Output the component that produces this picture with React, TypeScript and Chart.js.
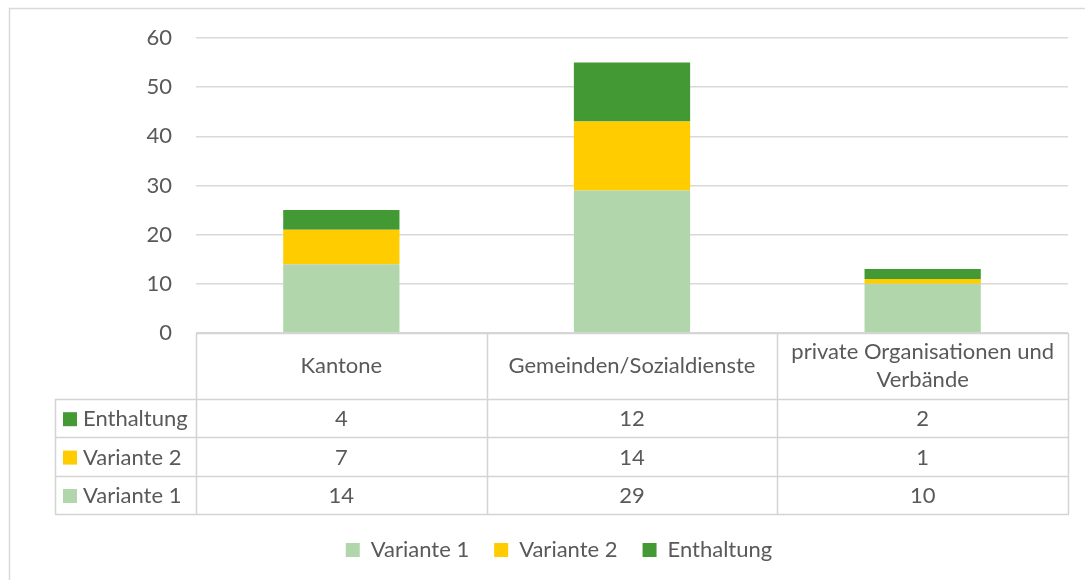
import React, { useEffect, useRef } from "react";
import { Chart, registerables } from "chart.js";

Chart.register(...registerables);

const categories = ["Kantone", "Gemeinden/Sozialdienste", "private Organisationen und Verbände"];
const variante1 = [14, 29, 10];
const variante2 = [7, 14, 1];
const enthaltung = [4, 12, 2];
const seriesNames = ["Variante 1", "Variante 2", "Enthaltung"];
const seriesColors = ["#B1D6AB", "#FFCC00", "#439A34"];
const yTicks = [0, 10, 20, 30, 40, 50, 60];

const FONT = "Lato";
const FS = 22;
const TEXT = "#595959";
const LINE = "#D9D9D9";

const frame = {
  id: "frame",
  beforeDraw(chart: any) {
    const ctx = chart.ctx;
    ctx.save();
    ctx.strokeStyle = LINE;
    ctx.lineWidth = 1.5;
    ctx.beginPath();
    ctx.moveTo(9.5, chart.height);
    ctx.lineTo(9.5, 8.5);
    ctx.lineTo(chart.width, 8.5);
    ctx.stroke();
    ctx.restore();
  },
};

function wrap(ctx: any, text: string, maxW: number): string[] {
  const words = text.split(" ");
  const lines: string[] = [];
  let cur = "";
  for (const w of words) {
    const t = cur ? cur + " " + w : w;
    if (ctx.measureText(t).width > maxW && cur) {
      lines.push(cur);
      cur = w;
    } else cur = t;
  }
  if (cur) lines.push(cur);
  return lines;
}

const dataTable = {
  id: "dataTable",
  afterDraw(chart: any) {
    const ctx = chart.ctx;
    const x = chart.scales.x;
    const area = chart.chartArea;
    const n = categories.length;
    const colW = (area.right - area.left) / n;
    const top = area.bottom;
    const headerBottom = top + 66;
    const rowH = 38.4;
    const rows = [
      { name: seriesNames[2], color: seriesColors[2], values: enthaltung },
      { name: seriesNames[1], color: seriesColors[1], values: variante2 },
      { name: seriesNames[0], color: seriesColors[0], values: variante1 },
    ];
    const tableBottom = headerBottom + rowH * rows.length;
    const labelLeft = 55;
    const right = area.right + 1;

    ctx.save();
    ctx.strokeStyle = "#D4D4D4";
    ctx.lineWidth = 1.5;
    ctx.beginPath();
    ctx.moveTo(area.left, top + 0.5);
    ctx.lineTo(right, top + 0.5);
    for (let i = 0; i <= n; i++) {
      const vx = Math.round(area.left + colW * i) + 0.5;
      ctx.moveTo(vx, top);
      ctx.lineTo(vx, tableBottom);
    }
    ctx.moveTo(labelLeft + 0.5, headerBottom);
    ctx.lineTo(labelLeft + 0.5, tableBottom);
    for (let r = 0; r <= rows.length; r++) {
      const hy = Math.round(headerBottom + rowH * r) + 0.5;
      ctx.moveTo(labelLeft, hy);
      ctx.lineTo(right, hy);
    }
    ctx.stroke();

    ctx.fillStyle = TEXT;
    ctx.font = `${FS}px ${FONT}`;
    ctx.textBaseline = "middle";
    ctx.textAlign = "center";
    for (let i = 0; i < n; i++) {
      const cx = x.getPixelForValue(i);
      const lines = wrap(ctx, categories[i], colW - 12);
      const lh = 28;
      const cy = (top + headerBottom) / 2;
      lines.forEach((l, k) => {
        ctx.fillText(l, cx, cy + (k - (lines.length - 1) / 2) * lh);
      });
    }
    rows.forEach((row, r) => {
      const cy = headerBottom + rowH * r + rowH / 2 + 1;
      ctx.fillStyle = row.color;
      ctx.fillRect(63, cy - 7, 14, 14);
      ctx.fillStyle = TEXT;
      ctx.textAlign = "left";
      ctx.fillText(row.name, 83, cy);
      ctx.textAlign = "center";
      for (let i = 0; i < n; i++) {
        ctx.fillText(String(row.values[i]), x.getPixelForValue(i), cy);
      }
    });
    ctx.restore();
  },
};

export default function App() {
  const ref = useRef<HTMLCanvasElement | null>(null);
  useEffect(() => {
    if (!ref.current) return;
    const chart = new Chart(ref.current, {
      type: "bar",
      data: {
        labels: categories,
        datasets: [
          { label: seriesNames[0], data: variante1, backgroundColor: seriesColors[0] },
          { label: seriesNames[1], data: variante2, backgroundColor: seriesColors[1] },
          { label: seriesNames[2], data: enthaltung, backgroundColor: seriesColors[2] },
        ],
      },
      options: {
        animation: false,
        responsive: false,
        maintainAspectRatio: false,
        layout: { padding: { top: 38, right: 17, bottom: 9, left: 50 } },
        datasets: { bar: { barPercentage: 0.4, categoryPercentage: 1 } },
        scales: {
          x: {
            stacked: true,
            grid: { display: false },
            border: { display: false },
            ticks: { display: false },
            afterFit: (s: any) => {
              s.height = 181;
            },
          },
          y: {
            stacked: true,
            min: yTicks[0],
            max: yTicks[yTicks.length - 1],
            afterBuildTicks: (s: any) => {
              s.ticks = yTicks.map((v) => ({ value: v }));
            },
            grid: { color: LINE, lineWidth: 1.5, drawTicks: false },
            border: { display: false },
            ticks: { color: TEXT, font: { family: FONT, size: FS }, padding: 24 },
            afterFit: (s: any) => {
              s.width = 146;
            },
          },
        },
        plugins: {
          legend: {
            position: "bottom",
            labels: {
              color: TEXT,
              font: { family: FONT, size: FS },
              boxWidth: 14,
              boxHeight: 14,
              padding: 25,
            },
          },
          tooltip: { enabled: false },
        },
      },
      plugins: [frame, dataTable],
    });
    return () => chart.destroy();
  }, []);
  return (
    <div style={{ position: "fixed", left: 0, top: 0, width: 1085, height: 580, background: "#fff" }}>
      <canvas ref={ref} width={1085} height={580} style={{ width: 1085, height: 580 }} />
    </div>
  );
}
